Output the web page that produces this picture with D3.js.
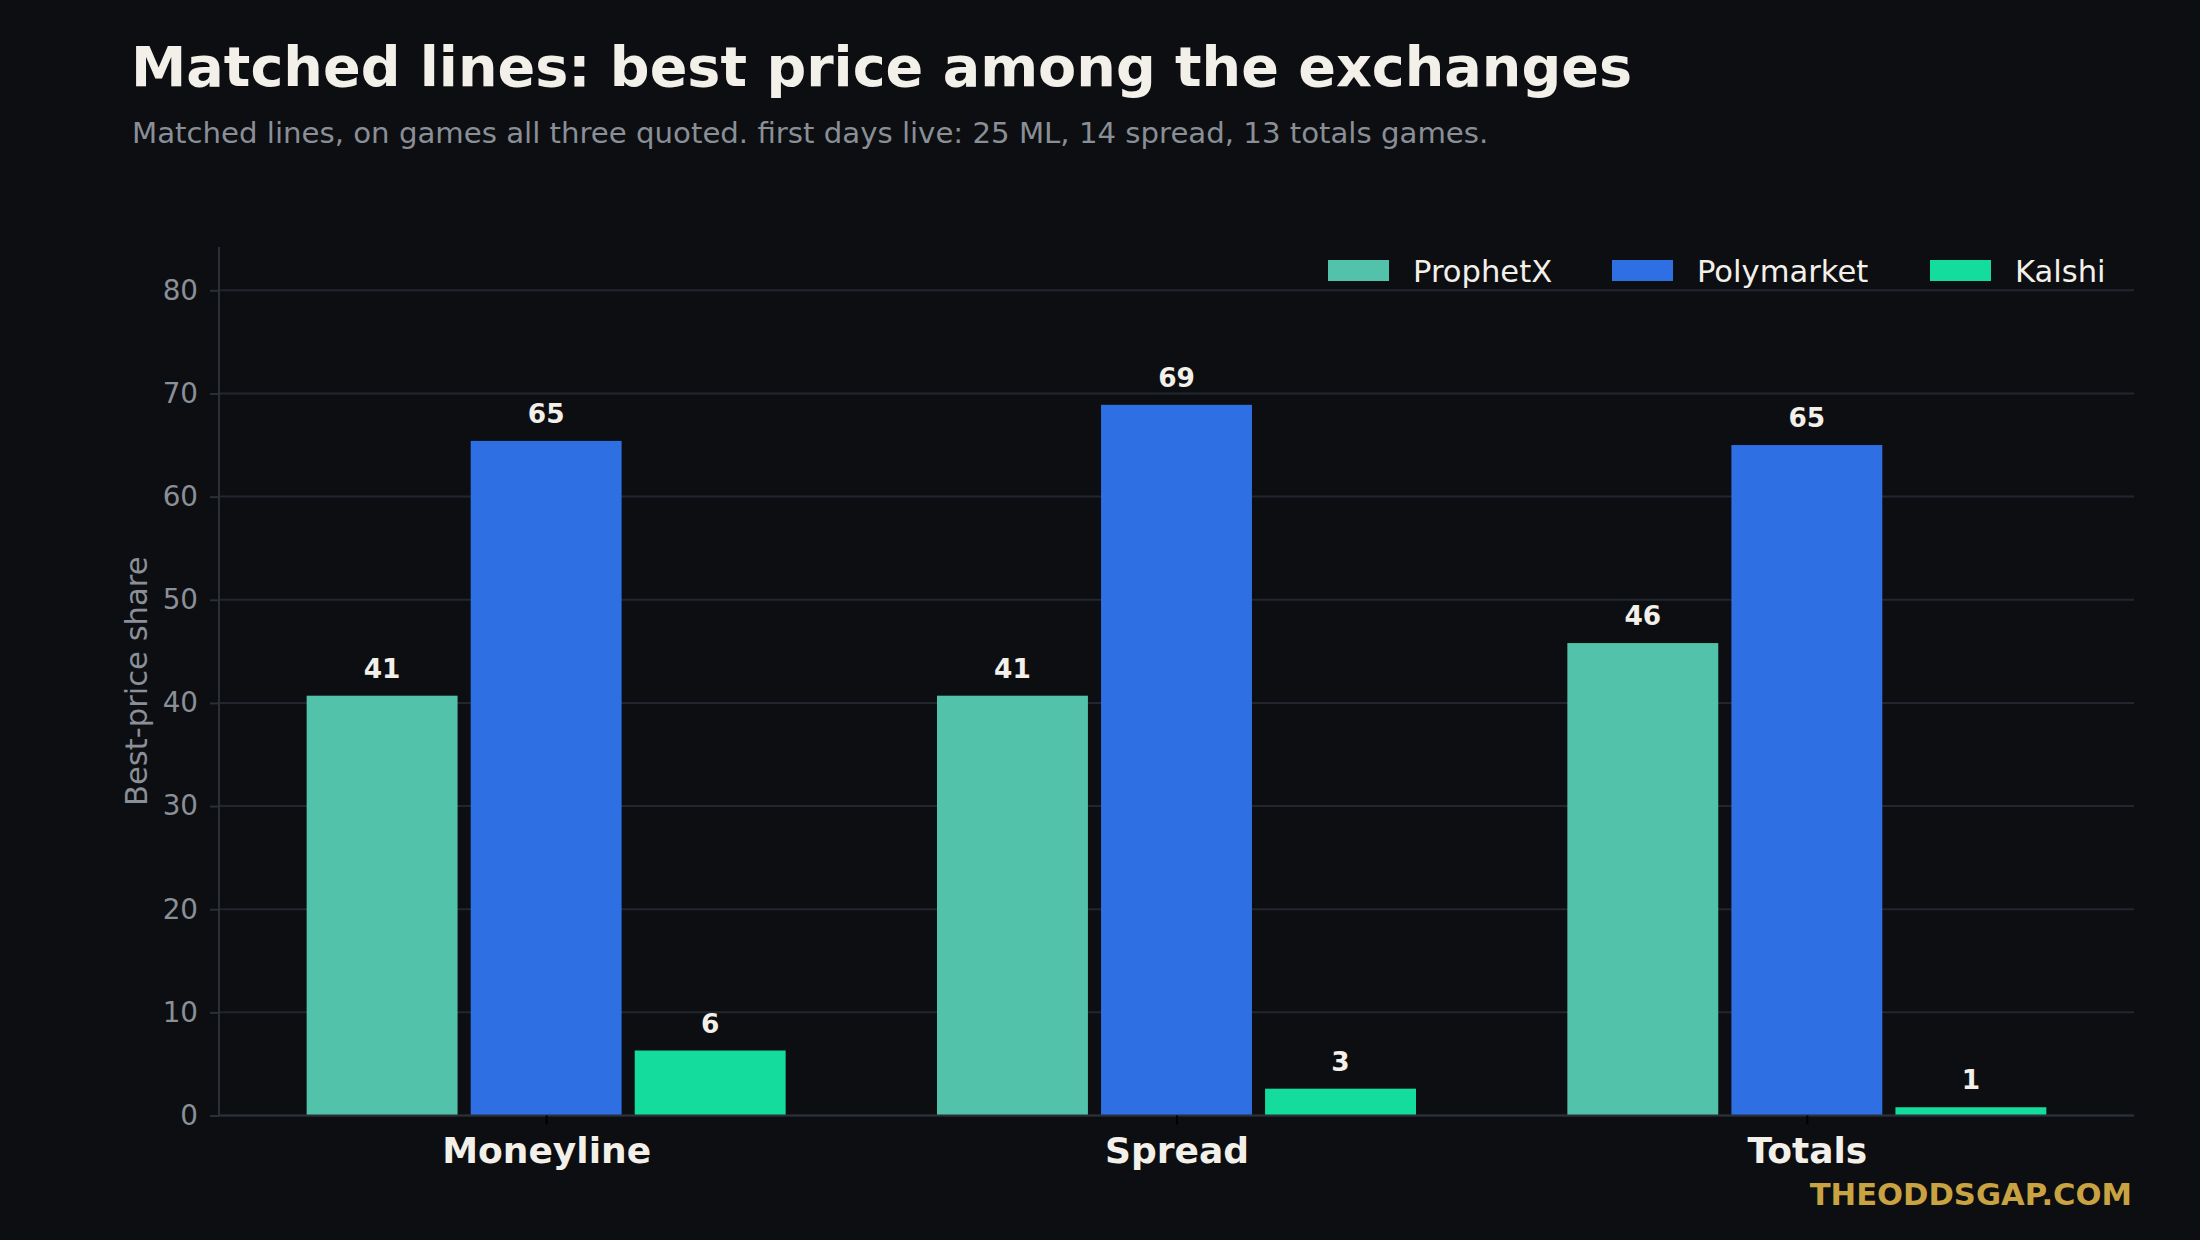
<!DOCTYPE html>
<html>
<head>
<meta charset="utf-8">
<script src="https://cdn.jsdelivr.net/npm/d3@7"></script>
<style>
    html, body { margin: 0; padding: 0; background: #0c0e12; }
    svg { display: block; font-family: "DejaVu Sans", sans-serif; }
</style>
</head>
<body>
<div id="chart"></div>
<script>
// Matched lines chart - best price share per exchange
const categories = ["Moneyline", "Spread", "Totals"];
const seriesNames = ["ProphetX", "Polymarket", "Kalshi"];
const prophetxValues = [40.7, 40.7, 45.8];
const polymarketValues = [65.4, 68.9, 65.0];
const kalshiValues = [6.3, 2.6, 0.8];
const yTicks = [0, 10, 20, 30, 40, 50, 60, 70, 80];
const seriesColors = ["#52c2ab", "#2f6fe4", "#14dc9c"];

const width = 2200;
const height = 1240;
const plot = { left: 219, right: 2134, top: 247, bottom: 1115.5 };

const seriesValues = [prophetxValues, polymarketValues, kalshiValues];
const data = [];
categories.forEach((cat, ci) => {
    seriesNames.forEach((s, si) => {
        data.push({ cat: cat, series: s, value: seriesValues[si][ci], color: seriesColors[si] });
    });
});

const svg = d3.select("#chart")
    .append("svg")
    .attr("width", width)
    .attr("height", height);

svg.append("rect")
    .attr("width", width)
    .attr("height", height)
    .attr("fill", "#0c0e12");

// Scales
const x = d3.scalePoint()
    .domain(categories)
    .range([plot.left, plot.right])
    .padding(0.519);

const xInner = d3.scaleBand()
    .domain(seriesNames)
    .range([-239.5, 239.5])
    .paddingInner(0.08);

const y = d3.scaleLinear()
    .domain([0, 84.2])
    .range([plot.bottom, plot.top]);

// Gridlines
svg.append("g")
    .selectAll("line")
    .data(yTicks)
    .enter().append("line")
    .attr("x1", plot.left)
    .attr("x2", plot.right)
    .attr("y1", d => y(d))
    .attr("y2", d => y(d))
    .attr("stroke", "#22262e")
    .attr("stroke-width", 2);

// Y axis
const yAxis = svg.append("g")
    .attr("transform", `translate(${plot.left},0)`)
    .call(d3.axisLeft(y).tickValues(yTicks).tickSize(9).tickPadding(12));
yAxis.select(".domain").remove();
yAxis.selectAll(".tick line").attr("stroke", "#2a2f38").attr("stroke-width", 2);
yAxis.selectAll(".tick text")
    .attr("fill", "#8b8f97")
    .style("font-size", "27.8px")
    .style("font-family", "'DejaVu Sans', sans-serif");

// Spines
svg.append("line")
    .attr("x1", plot.left).attr("x2", plot.left)
    .attr("y1", plot.top).attr("y2", plot.bottom)
    .attr("stroke", "#2a2f38").attr("stroke-width", 2);

// Bars
svg.append("g")
    .selectAll("rect")
    .data(data)
    .enter().append("rect")
    .attr("x", d => x(d.cat) + xInner(d.series))
    .attr("width", xInner.bandwidth())
    .attr("y", d => y(d.value))
    .attr("height", d => y(0) - y(d.value))
    .attr("fill", d => d.color);

svg.append("line")
    .attr("x1", plot.left).attr("x2", plot.right)
    .attr("y1", plot.bottom).attr("y2", plot.bottom)
    .attr("stroke", "#2a2f38").attr("stroke-width", 2);

// Value labels
svg.append("g")
    .selectAll("text")
    .data(data)
    .enter().append("text")
    .attr("x", d => x(d.cat) + xInner(d.series) + xInner.bandwidth() / 2)
    .attr("y", d => y(d.value) - 18)
    .attr("text-anchor", "middle")
    .attr("fill", "#f3f0e9")
    .style("font-size", "26.4px")
    .style("font-weight", "bold")
    .text(d => Math.round(d.value));

// X axis
const xAxis = svg.append("g")
    .attr("transform", `translate(0,${plot.bottom})`)
    .call(d3.axisBottom(x).tickSize(9).tickPadding(12));
xAxis.select(".domain").remove();
xAxis.selectAll(".tick line").attr("stroke", "#000").attr("stroke-width", 2);
xAxis.selectAll(".tick text")
    .attr("fill", "#f3f0e9")
    .attr("dy", null)
    .attr("y", 47)
    .style("font-size", "36px")
    .style("font-weight", "bold")
    .style("font-family", "'DejaVu Sans', sans-serif");

// Y axis label
svg.append("text")
    .attr("transform", `translate(147,${(plot.top + plot.bottom) / 2}) rotate(-90)`)
    .attr("text-anchor", "middle")
    .attr("fill", "#8b8f97")
    .style("font-size", "30.6px")
    .text("Best-price share");

// Legend
const legendX = [1328, 1612, 1930];
const legend = svg.append("g")
    .selectAll("g")
    .data(seriesNames)
    .enter().append("g")
    .attr("transform", (d, i) => `translate(${legendX[i]},260)`);
legend.append("rect")
    .attr("width", 61)
    .attr("height", 21)
    .attr("fill", (d, i) => seriesColors[i]);
legend.append("text")
    .attr("x", 85)
    .attr("y", 21.5)
    .attr("fill", "#f3f0e9")
    .style("font-size", "30.6px")
    .text(d => d);

// Title and subtitle
svg.append("text")
    .attr("x", 131)
    .attr("y", 86)
    .attr("fill", "#f3f0e9")
    .style("font-size", "55.6px")
    .style("font-weight", "bold")
    .text("Matched lines: best price among the exchanges");

svg.append("text")
    .attr("x", 132)
    .attr("y", 143)
    .attr("fill", "#8a8e96")
    .style("font-size", "29.2px")
    .text("Matched lines, on games all three quoted. first days live: 25 ML, 14 spread, 13 totals games.");

// Watermark
svg.append("text")
    .attr("x", 2132)
    .attr("y", 1205)
    .attr("text-anchor", "end")
    .attr("fill", "#c9a341")
    .style("font-size", "30.6px")
    .style("font-weight", "bold")
    .text("THEODDSGAP.COM");
</script>
</body>
</html>
